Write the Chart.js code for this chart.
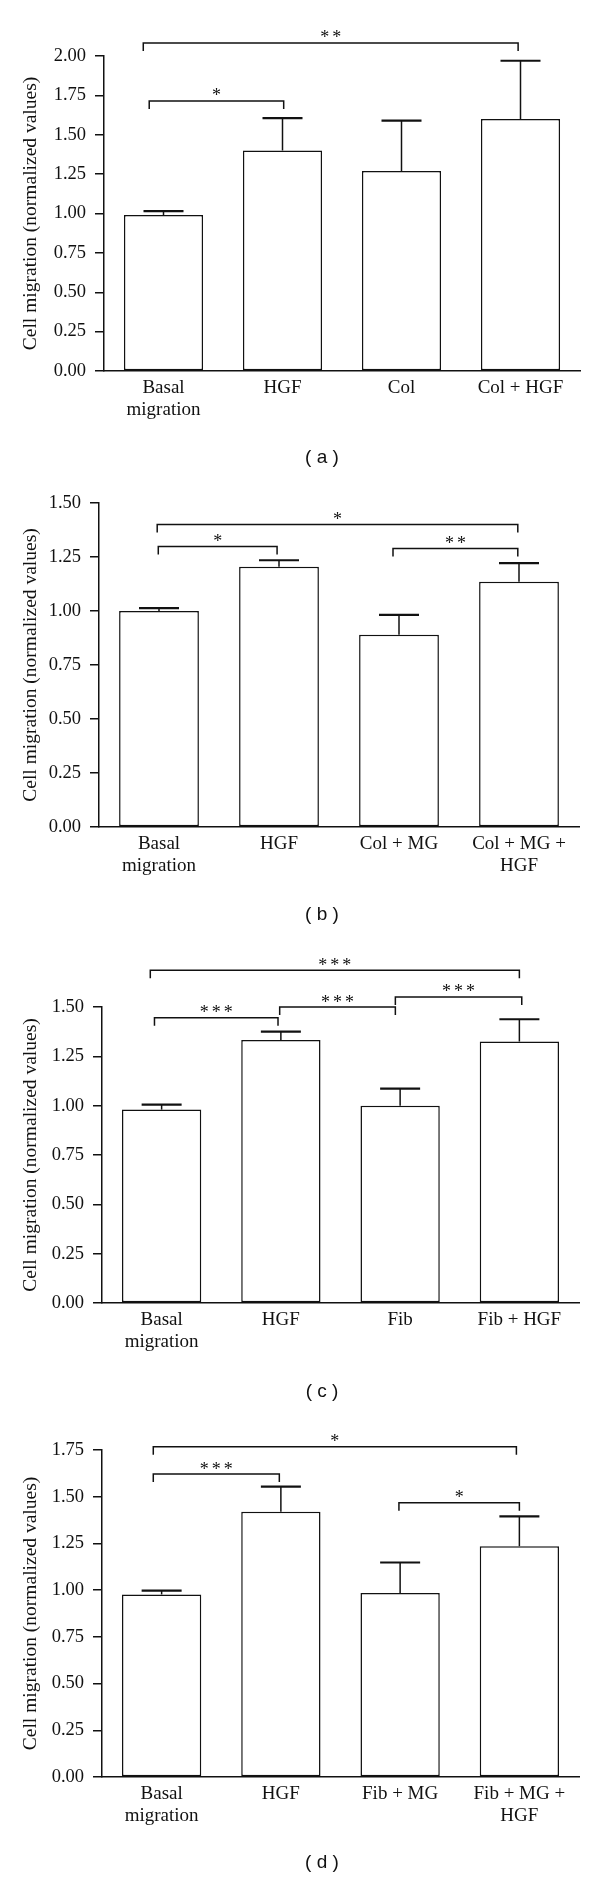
<!DOCTYPE html>
<html>
<head>
<meta charset="utf-8">
<script src="https://cdn.jsdelivr.net/npm/chart.js@4.4.1/dist/chart.umd.min.js"></script>
<style>
  body { margin: 0; background: #fff; }
  #page { position: relative; width: 600px; height: 1878px; }
  #page canvas { position: absolute; left: 0; }
  .cap {
    position: absolute; width: 100px; margin-left: -50px; height: 24px;
    line-height: 24px; text-align: center; color: #111;
    font: 19px "Liberation Sans", Arial, sans-serif; white-space: pre;
  }
</style>
</head>
<body>
<div id="page">
  <canvas id="chartA" width="600" height="470" style="top:0px"></canvas>
  <canvas id="chartB" width="600" height="470" style="top:470px"></canvas>
  <canvas id="chartC" width="600" height="468" style="top:940px"></canvas>
  <canvas id="chartD" width="600" height="470" style="top:1408px"></canvas>
  <div class="cap" style="left:322px; top:446px">( a )</div>
  <div class="cap" style="left:322px; top:903px">( b )</div>
  <div class="cap" style="left:322px; top:1380px">( c )</div>
  <div class="cap" style="left:322px; top:1851px">( d )</div>
</div>
<script>
var yTitle = 'Cell migration (normalized values)';

// (a)
var catsA = [['Basal', 'migration'], 'HGF', 'Col', 'Col + HGF'];
var meanA = [0.99, 1.40, 1.27, 1.60];
var errA = [0.025, 0.205, 0.32, 0.37];
var yMaxA = 2.0;
// [from, to, level, label] - from/to in category units
var sigA = [[-0.17, 2.98, 2.083, '**'], [-0.12, 1.01, 1.715, '*']];

// (b)
var catsB = [['Basal', 'migration'], 'HGF', 'Col + MG', ['Col + MG +', 'HGF']];
var meanB = [1.00, 1.205, 0.89, 1.135];
var errB = [0.013, 0.03, 0.092, 0.087];
var yMaxB = 1.5;
var sigB = [[-0.015, 2.99, 1.40, '*'], [-0.006, 0.984, 1.299, '*'], [1.95, 2.99, 1.289, '**']];

// (c)
var catsC = [['Basal', 'migration'], 'HGF', 'Fib', 'Fib + HGF'];
var meanC = [0.98, 1.333, 1.00, 1.325];
var errC = [0.025, 0.042, 0.086, 0.113];
var yMaxC = 1.5;
var sigC = [[-0.095, 3.0, 1.686, '***'], [-0.06, 0.976, 1.446, '***'], [0.99, 1.96, 1.50, '***'], [1.96, 3.02, 1.551, '***']];

// (d)
var catsD = [['Basal', 'migration'], 'HGF', 'Fib + MG', ['Fib + MG +', 'HGF']];
var meanD = [0.977, 1.42, 0.985, 1.235];
var errD = [0.02, 0.134, 0.163, 0.16];
var yMaxD = 1.75;
var sigD = [[-0.07, 2.975, 1.768, '*'], [-0.07, 0.987, 1.621, '***'], [1.99, 3.0, 1.468, '*']];

var yStep = 0.25;
var ink = '#111';
var serif = '"Liberation Serif", "Times New Roman", serif';

function annotations(means, errs, sig) {
    return {
        id: 'annotations',
        afterDatasetsDraw: function(chart) {
            var ctx = chart.ctx, xs = chart.scales.x, ys = chart.scales.y;
            var bars = chart.getDatasetMeta(0).data;
            ctx.save();
            ctx.strokeStyle = ink;
            ctx.fillStyle = ink;
            // error bars (upper only)
            bars.forEach(function(bar, i) {
                var top = ys.getPixelForValue(means[i] + errs[i]);
                ctx.lineWidth = 1.5;
                ctx.beginPath();
                ctx.moveTo(bar.x, bar.y);
                ctx.lineTo(bar.x, top);
                ctx.stroke();
                ctx.lineWidth = 2.2;
                ctx.beginPath();
                ctx.moveTo(bar.x - 20, top);
                ctx.lineTo(bar.x + 20, top);
                ctx.stroke();
            });
            // significance brackets
            var c0 = xs.getPixelForTick(0);
            var cw = xs.getPixelForTick(1) - c0;
            ctx.lineWidth = 1.5;
            ctx.font = '18px ' + serif;
            ctx.textAlign = 'center';
            ctx.textBaseline = 'alphabetic';
            sig.forEach(function(s) {
                var x1 = c0 + s[0] * cw, x2 = c0 + s[1] * cw;
                var y = ys.getPixelForValue(s[2]);
                ctx.beginPath();
                ctx.moveTo(x1, y + 8);
                ctx.lineTo(x1, y);
                ctx.lineTo(x2, y);
                ctx.lineTo(x2, y + 8);
                ctx.stroke();
                // stars are spaced out a bit like the original
                var n = s[3].length, pitch = 12;
                var mid = (x1 + x2) / 2;
                for (var k = 0; k < n; k++) {
                    ctx.fillText(s[3][k], mid + (k - (n - 1) / 2) * pitch, y + 0.5);
                }
            });
            ctx.restore();
        }
    };
}

function makePanel(id, cats, means, errs, yMax, sig, box) {
    var ctx = document.getElementById(id).getContext('2d');
    return new Chart(ctx, {
        type: 'bar',
        data: {
            labels: cats,
            datasets: [{
                data: means,
                backgroundColor: '#ffffff',
                borderColor: ink,
                borderWidth: 1.5,
                borderSkipped: false,
                barPercentage: 0.665,
                categoryPercentage: 1
            }]
        },
        options: {
            responsive: false,
            animation: false,
            layout: {
                padding: { top: box.top, right: box.right, bottom: 0, left: 0 }
            },
            plugins: {
                legend: { display: false },
                tooltip: { enabled: false }
            },
            scales: {
                x: {
                    grid: { display: false, drawTicks: false },
                    border: { display: true, color: ink, width: 1.5 },
                    ticks: {
                        color: ink,
                        padding: 6,
                        maxRotation: 0,
                        autoSkip: false,
                        font: { family: serif, size: 19, lineHeight: 1.15 }
                    },
                    afterFit: function(s) { s.height = box.h - box.bottom; }
                },
                y: {
                    min: 0,
                    max: yMax,
                    grid: {
                        drawOnChartArea: false,
                        drawTicks: true,
                        tickLength: 9,
                        color: ink,
                        lineWidth: 1.5
                    },
                    border: { display: true, color: ink, width: 1.5 },
                    ticks: {
                        stepSize: yStep,
                        padding: 9,
                        color: ink,
                        font: { family: serif, size: 18.5 },
                        callback: function(v) { return v.toFixed(2); }
                    },
                    title: {
                        display: true,
                        text: yTitle,
                        color: ink,
                        padding: { top: 19, bottom: 0 },
                        font: { family: serif, size: 19.5, lineHeight: 1.2 }
                    },
                    afterFit: function(s) { s.width = box.axisX; }
                }
            }
        },
        plugins: [annotations(means, errs, sig)]
    });
}

makePanel('chartA', catsA, meanA, errA, yMaxA, sigA, { h: 470, axisX: 104, top: 56, bottom: 371, right: 20 });
makePanel('chartB', catsB, meanB, errB, yMaxB, sigB, { h: 470, axisX: 99, top: 33, bottom: 357, right: 21 });
makePanel('chartC', catsC, meanC, errC, yMaxC, sigC, { h: 468, axisX: 102, top: 67, bottom: 363, right: 21 });
makePanel('chartD', catsD, meanD, errD, yMaxD, sigD, { h: 470, axisX: 102, top: 42, bottom: 369, right: 21 });
</script>
</body>
</html>
